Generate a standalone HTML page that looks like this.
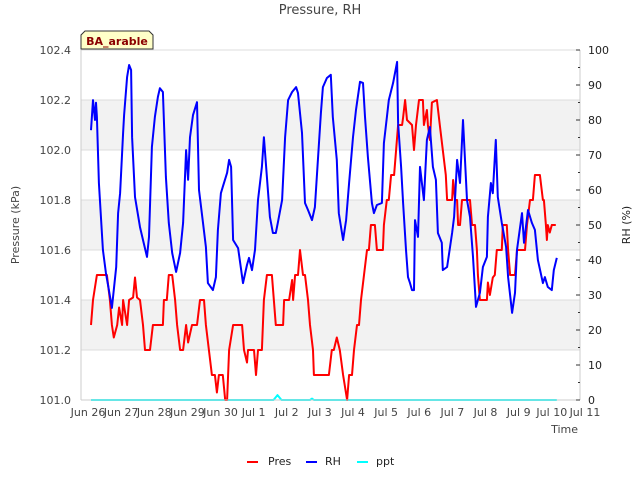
<!DOCTYPE html>
<html><head><meta charset="utf-8"><style>
body{margin:0;background:#fff;font-family:"Liberation Sans","DejaVu Sans",sans-serif}
svg text{font-family:"DejaVu Sans","Liberation Sans",sans-serif}
</style></head><body>
<svg id="chart" width="640" height="480" viewBox="0 0 640 480" xmlns="http://www.w3.org/2000/svg">
<rect width="640" height="480" fill="#fff"/>
<g id="bands"></g><g id="grid"></g>
<g id="series"></g><g id="axes"></g>
<text x="320" y="14" text-anchor="middle" font-size="13" fill="#444">Pressure, RH</text>
<text transform="translate(19,225) rotate(-90)" text-anchor="middle" font-size="11" fill="#444">Pressure (kPa)</text>
<text transform="translate(630,225) rotate(-90)" text-anchor="middle" font-size="11" fill="#222">RH (%)</text>
<text x="578" y="433" text-anchor="end" font-size="11" fill="#444">Time</text>
<g>
<path d="M81,49 L81,35 L85,31 L149,31 L153,35 L153,49 Z" fill="#ffffc8" stroke="#333" stroke-width="1"/>
<text x="117" y="45" text-anchor="middle" font-size="11" font-weight="bold" fill="#8b0000">BA_arable</text>
</g>
<g>
<g><line x1="247" y1="462" x2="258" y2="462" stroke="#f00" stroke-width="2"/><text x="268" y="465" font-size="11" fill="#222">Pres</text></g>
<g><line x1="306" y1="462" x2="317" y2="462" stroke="#00f" stroke-width="2"/><text x="325" y="465" font-size="11" fill="#222">RH</text></g>
<g><line x1="357" y1="462" x2="368" y2="462" stroke="#0ff" stroke-width="2"/><text x="376" y="465" font-size="11" fill="#222">ppt</text></g>
</g>
</svg>
<script>
const xTickLabels=["Jun 26","Jun 27","Jun 28","Jun 29","Jun 30","Jul 1","Jul 2","Jul 3","Jul 4","Jul 5","Jul 6","Jul 7","Jul 8","Jul 9","Jul 10","Jul 11"];
const presTicks=[101.0,101.2,101.4,101.6,101.8,102.0,102.2,102.4];
const rhTicks=[0,10,20,30,40,50,60,70,80,90,100];
const rhTime=[.09,.15,.21,.24,.27,.33,.45,.54,.63,.72,.85,.91,.97,1.06,1.09,1.18,1.24,1.30,1.33,1.42,1.57,1.66,1.78,1.84,1.93,2.02,2.11,2.17,2.26,2.35,2.44,2.54,2.66,2.78,2.87,2.96,3.02,3.08,3.17,3.29,3.35,3.47,3.56,3.62,3.77,3.86,3.92,4.01,4.07,4.20,4.26,4.32,4.38,4.53,4.68,4.80,4.86,4.95,5.04,5.13,5.25,5.31,5.40,5.49,5.58,5.67,5.73,5.86,5.95,6.04,6.16,6.28,6.34,6.46,6.55,6.64,6.76,6.85,6.94,7.03,7.09,7.21,7.33,7.39,7.51,7.57,7.70,7.79,7.88,8.00,8.09,8.21,8.30,8.36,8.45,8.57,8.63,8.72,8.87,8.93,9.02,9.08,9.21,9.33,9.36,9.45,9.51,9.60,9.66,9.72,9.78,9.84,9.87,9.96,10.02,10.14,10.23,10.32,10.41,10.50,10.56,10.68,10.71,10.84,10.99,11.05,11.14,11.23,11.32,11.44,11.53,11.62,11.71,11.83,11.92,12.04,12.07,12.16,12.22,12.31,12.37,12.49,12.62,12.68,12.80,12.89,12.95,13.10,13.16,13.28,13.40,13.49,13.58,13.73,13.79,13.88,14.00,14.06,14.15];
const rhValues=[77.1,85.7,80,84.9,80.9,62,42.9,36.3,31.4,26.3,38,53.4,59.1,76.3,81.4,92.3,95.7,94.3,75.1,58,49.4,45.7,40.9,46.6,72.3,80.9,86.6,89.1,88,63.7,50.6,42,36.6,42,50.6,71.4,62.9,75.1,81.4,85.1,60,50.6,43.7,33.4,31.4,35.1,48.6,59.1,60.9,64.9,68.6,66.6,45.7,43.4,33.4,38.6,40.6,37.1,42.9,57.1,66.6,75.1,63.7,52.3,47.7,47.7,50.6,57.1,75.1,85.7,88,89.4,87.7,76.3,56.3,54.3,51.4,55.1,68.6,82,89.4,92,92.9,80.9,68.6,53.4,45.7,51.4,62,75.1,82.9,90.9,90.6,80.9,69.4,56.3,53.4,55.7,56.3,73.4,80.6,85.7,90.6,96.6,79.1,66.6,56.3,42.9,35.1,33.4,31.4,31.4,51.4,46.6,66.6,57.1,74.3,78,66.6,62.9,47.7,44.9,37.1,38,47.7,52.3,68.6,62,80,57.1,52.3,40.9,26.6,30.6,38,40.9,52.3,62,59.1,74.3,58,50.6,43.7,35.1,24.9,30.6,42.9,53.4,44.9,54.3,50.6,48.6,40,33.4,35.1,32.3,31.4,37.1,40.6];
const presTime=[.09,.15,.27,.57,.66,.72,.78,.88,.94,1.03,1.06,1.18,1.24,1.36,1.42,1.48,1.57,1.66,1.72,1.87,1.96,2.26,2.29,2.38,2.44,2.54,2.63,2.69,2.78,2.87,2.96,3.02,3.14,3.29,3.38,3.50,3.56,3.65,3.74,3.83,3.89,3.95,4.07,4.14,4.20,4.26,4.38,4.65,4.71,4.80,4.83,5.01,5.07,5.13,5.25,5.31,5.40,5.55,5.67,5.89,5.92,6.07,6.16,6.19,6.25,6.34,6.40,6.49,6.55,6.64,6.70,6.79,6.82,7.27,7.36,7.42,7.51,7.60,7.70,7.82,7.88,7.97,8.03,8.12,8.18,8.24,8.33,8.42,8.48,8.54,8.66,8.72,8.90,8.93,9.02,9.08,9.15,9.24,9.30,9.36,9.48,9.51,9.57,9.63,9.78,9.84,9.90,9.99,10.11,10.14,10.23,10.26,10.32,10.38,10.53,10.62,10.71,10.80,10.84,10.99,11.02,11.08,11.14,11.17,11.23,11.29,11.53,11.59,11.68,11.74,11.77,11.83,12.04,12.07,12.13,12.22,12.28,12.34,12.49,12.52,12.64,12.68,12.74,12.89,12.95,13.19,13.25,13.34,13.43,13.49,13.64,13.73,13.76,13.82,13.85,13.88,13.94,14.00,14.12];
const presValues=[101.30,101.40,101.50,101.50,101.40,101.30,101.25,101.30,101.37,101.30,101.40,101.30,101.40,101.41,101.49,101.41,101.40,101.30,101.20,101.20,101.30,101.30,101.40,101.40,101.50,101.50,101.40,101.30,101.20,101.20,101.30,101.23,101.30,101.30,101.40,101.40,101.30,101.20,101.10,101.10,101.03,101.10,101.10,101.00,101.00,101.20,101.30,101.30,101.20,101.15,101.20,101.20,101.10,101.20,101.20,101.40,101.50,101.50,101.30,101.30,101.40,101.40,101.48,101.40,101.50,101.50,101.60,101.50,101.50,101.40,101.30,101.20,101.10,101.10,101.20,101.20,101.25,101.20,101.10,101.00,101.10,101.10,101.20,101.30,101.30,101.40,101.50,101.60,101.60,101.70,101.70,101.60,101.60,101.70,101.80,101.80,101.90,101.90,102.00,102.10,102.10,102.13,102.20,102.12,102.10,102.00,102.10,102.20,102.20,102.10,102.16,102.10,102.04,102.19,102.20,102.10,102.00,101.90,101.80,101.80,101.88,101.80,101.80,101.70,101.70,101.80,101.80,101.70,101.70,101.60,101.50,101.40,101.40,101.47,101.42,101.49,101.50,101.60,101.60,101.70,101.70,101.60,101.50,101.50,101.60,101.60,101.70,101.80,101.80,101.90,101.90,101.80,101.80,101.70,101.64,101.70,101.67,101.70,101.70];
const pptTime=[.09,5.60,5.72,5.84,6.70,6.76,6.82,14.15];
const pptValues=[0,0,1.4,0,0,0.4,0,0];

const NS="http://www.w3.org/2000/svg";
const L=81,R=580,T=50,B=400;
const xScale=d=>88+d*33.13;
const yP=v=>B-(v-101.0)/1.4*(B-T);
const yR=v=>B-v/100*(B-T);
function mk(tag,attrs,parent){const e=document.createElementNS(NS,tag);for(const k in attrs)e.setAttribute(k,attrs[k]);parent.appendChild(e);return e;}
const bands=document.getElementById('bands'),grid=document.getElementById('grid'),axes=document.getElementById('axes'),series=document.getElementById('series');
for(let i=0;i<presTicks.length-1;i++){
  if(i%2===1){const r=mk('rect',{x:L,y:yP(presTicks[i+1]),width:R-L,height:yP(presTicks[i])-yP(presTicks[i+1]),fill:'#f2f2f2'},bands);
  
  }
}
presTicks.forEach(v=>{
  const g=mk('line',{x1:L,x2:R,y1:yP(v),y2:yP(v),stroke:'#dcdcdc','stroke-width':1},grid);
  
  
  const t=mk('text',{x:71,y:yP(v)+4,'text-anchor':'end','font-size':11,fill:'#444'},axes);
  
  
  t.textContent=v.toFixed(1);
});
mk('line',{x1:L,x2:L,y1:T,y2:B,stroke:'#ccc'},axes);
mk('line',{x1:R,x2:R,y1:T,y2:B,stroke:'#ccc'},axes);
mk('line',{x1:L,x2:R,y1:B,y2:B,stroke:'#ccc'},axes);
rhTicks.forEach(v=>{
  mk('line',{x1:R-4,x2:R,y1:yR(v),y2:yR(v),stroke:'#333'},axes);
  if(v<100)mk('line',{x1:R-2,x2:R,y1:yR(v+5),y2:yR(v+5),stroke:'#333'},axes);
  const t=mk('text',{x:588,y:yR(v)+4,'font-size':11,fill:'#222'},axes);
  
  
  t.textContent=v;
});
xTickLabels.forEach((s,i)=>{
  const t=mk('text',{x:xScale(i),y:416,'text-anchor':'middle','font-size':11,fill:'#444'},axes);
  
  
  t.textContent=s;
});
function line(ts,vs,ys,color,name){
  const d=ts.map((t,i)=>(i?'L':'M')+xScale(t).toFixed(1)+','+ys(vs[i]).toFixed(1)).join('');
  const p=mk('path',{d:d,fill:'none',stroke:color,'stroke-width':2,'stroke-linejoin':'round'},series);
  
  
}
line(pptTime,pptValues,yR,'#00ffff','ppt-line');
line(presTime,presValues,yP,'#ff0000','pres-line');
line(rhTime,rhValues,yR,'#0000ff','rh-line');
</script>
</body></html>
